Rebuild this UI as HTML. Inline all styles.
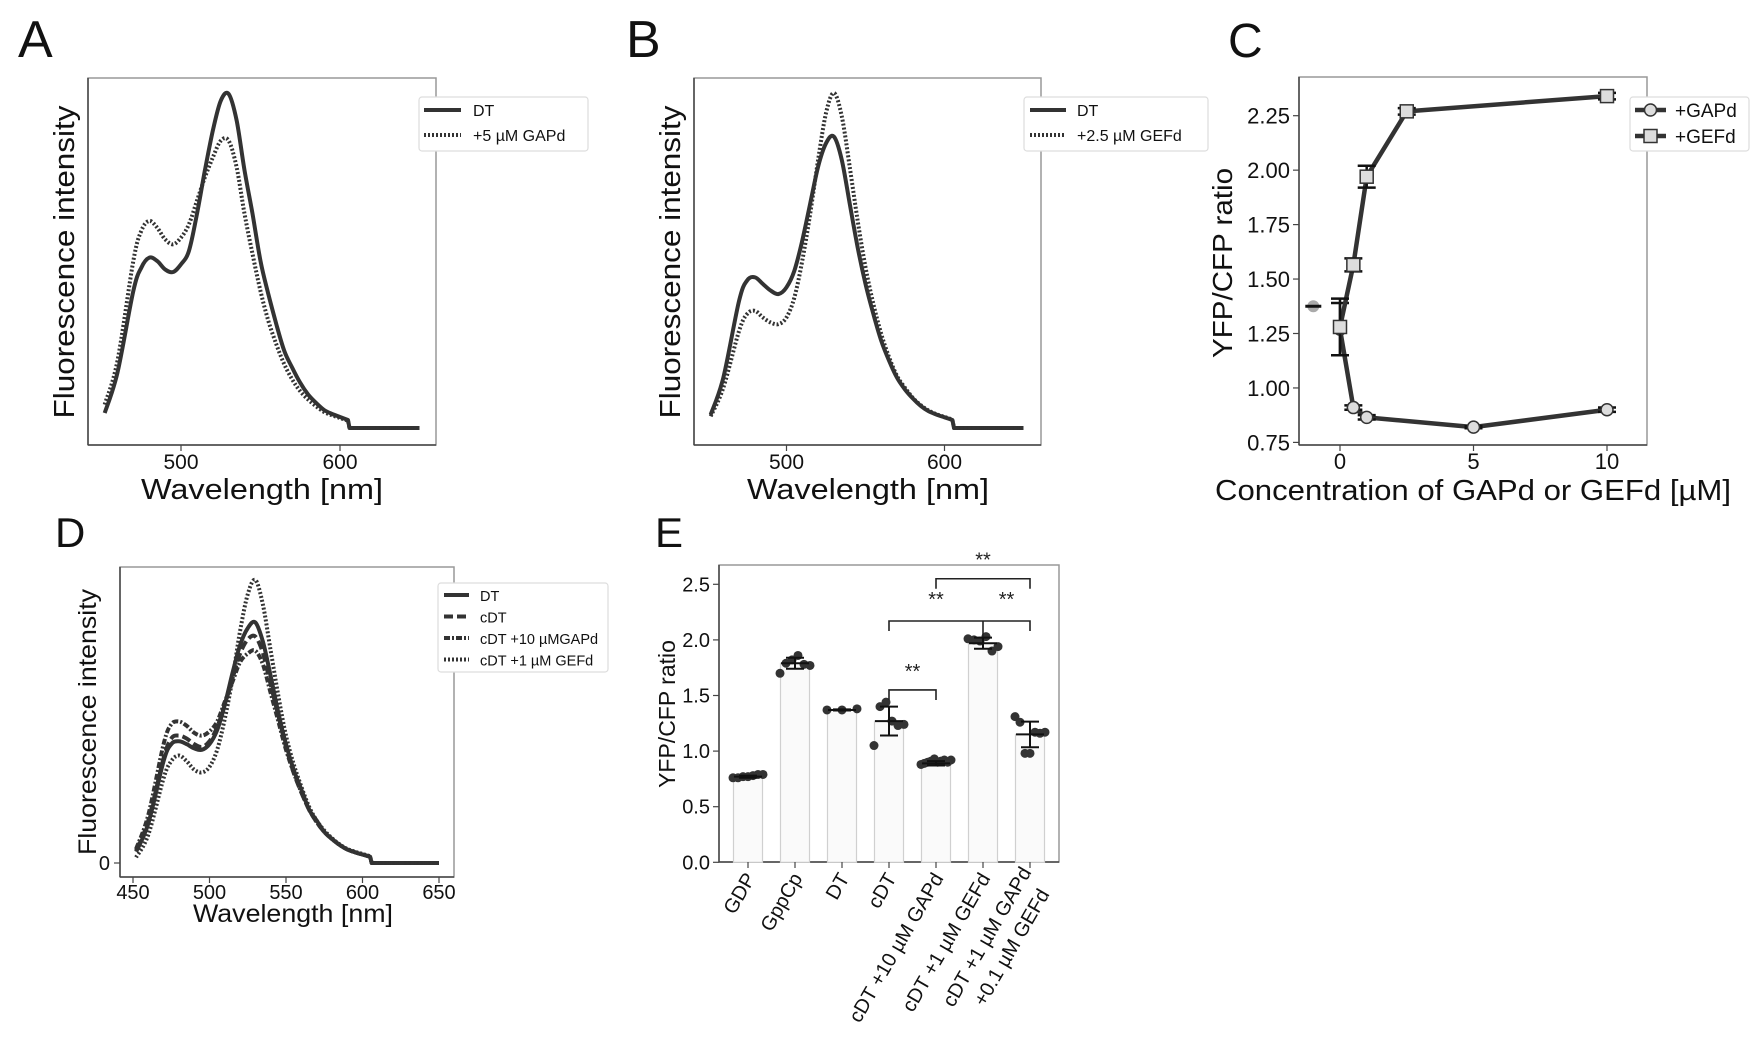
<!DOCTYPE html>
<html><head><meta charset="utf-8"><style>
html,body{margin:0;padding:0;background:#fff;}
svg{display:block;font-family:"Liberation Sans","DejaVu Sans",sans-serif;}
</style></head><body>
<svg id="fig" width="1762" height="1054" viewBox="0 0 1762 1054">
<rect x="0" y="0" width="1762" height="1054" fill="#fff"/>
<g id="layer"></g>
</svg>
<script>
// ---------- DATA ----------
const wavelengths = [452,460,470,475,480,485,490,495,500,505,510,515,520,525,530,535,540,545,550,555,560,565,570,575,580,585,590,595,600,605,606,650];
const aDT   = [.045,.165,.41,.48,.51,.50,.475,.467,.49,.53,.64,.77,.89,.98,1.0,.92,.77,.64,.50,.40,.31,.23,.18,.135,.10,.075,.054,.042,.033,.024,0,0];
const aGAPd = [.07,.20,.50,.59,.62,.60,.565,.55,.57,.61,.68,.75,.81,.86,.86,.78,.64,.52,.41,.32,.25,.19,.145,.11,.085,.065,.048,.038,.03,.022,0,0];
const bDT   = [.04,.15,.38,.44,.45,.43,.41,.40,.42,.47,.56,.67,.78,.85,.87,.80,.67,.54,.43,.34,.26,.20,.15,.115,.088,.066,.05,.04,.032,.024,0,0];
const bGEFd = [.035,.12,.29,.34,.35,.33,.315,.31,.33,.39,.50,.64,.80,.94,1.0,.93,.78,.62,.48,.37,.28,.21,.155,.12,.09,.068,.052,.041,.033,.025,0,0];
const dDT   = [.04,.14,.36,.42,.43,.42,.405,.40,.42,.47,.56,.67,.77,.83,.85,.78,.66,.53,.42,.33,.26,.19,.15,.11,.085,.064,.048,.038,.03,.022,0,0];
const dcDT  = [.045,.15,.37,.44,.45,.44,.42,.41,.43,.48,.56,.65,.74,.79,.80,.74,.63,.52,.41,.32,.25,.19,.145,.11,.085,.064,.048,.038,.03,.022,0,0];
const dGAPd = [.05,.17,.42,.49,.50,.485,.46,.45,.465,.50,.57,.64,.71,.74,.75,.70,.60,.50,.40,.32,.25,.19,.145,.11,.085,.064,.048,.038,.03,.022,0,0];
const dGEFd = [.02,.10,.30,.36,.38,.36,.33,.32,.34,.40,.51,.65,.82,.95,1.0,.91,.75,.59,.45,.35,.27,.20,.15,.115,.088,.066,.05,.04,.032,.024,0,0];
const specTicksAB = [500,600];
const specTicksD = [450,500,550,600,650];

const cGAPdX = [0,0.5,1,5,10];
const cGAPdY = [1.27,0.91,0.865,0.82,0.90];
const cGAPdE = [0.12,0.01,0.01,0.005,0.01];
const cGEFdX = [0,0.5,1,2.5,10];
const cGEFdY = [1.28,1.565,1.97,2.27,2.34];
const cGEFdE = [0.13,0.03,0.05,0.015,0.015];
const cRefX = [-1];
const cRefY = [1.375];
const cYTicks = [0.75,1.00,1.25,1.50,1.75,2.00,2.25];
const cXTicks = [0,5,10];

const eCats = ["GDP","GppCp","DT","cDT","cDT +10 µM GAPd","cDT +1 µM GEFd","cDT +1 µM GAPd|+0.1 µM GEFd"];
const eMeans = [0.77,1.79,1.37,1.27,0.89,1.97,1.15];
const eErr = [0.01,0.05,0.005,0.13,0.02,0.05,0.115];
const ePoints = [
 [0.76,0.76,0.77,0.77,0.78,0.79,0.79],
 [1.70,1.79,1.82,1.86,1.78,1.77],
 [1.37,1.37,1.38],
 [1.05,1.40,1.44,1.27,1.23,1.24],
 [0.88,0.89,0.90,0.91,0.93,0.90,0.91,0.92,0.90,0.92],
 [2.01,2.00,1.99,2.03,1.90,1.94],
 [1.31,1.26,0.98,0.98,1.17,1.16,1.17]
];
const eYTicks = [0.0,0.5,1.0,1.5,2.0,2.5];
const eSigStart = [3,3,4];
const eSigEnd = [4,6,6];
const eSigLevel = [1.55,2.17,2.55];

// ---------- HELPERS ----------
const NS="http://www.w3.org/2000/svg";
const layer=document.getElementById('layer');
function mk(tag,attrs,parent){const e=document.createElementNS(NS,tag);for(const k in attrs)e.setAttribute(k,attrs[k]);(parent||layer).appendChild(e);return e;}
function txt(s,attrs,parent){const e=mk('text',attrs,parent);e.textContent=s;return e;}
function smoothPath(pts){
  let d=`M${pts[0][0].toFixed(1)},${pts[0][1].toFixed(1)}`;
  for(let i=0;i<pts.length-1;i++){
    const p0=pts[Math.max(0,i-1)],p1=pts[i],p2=pts[i+1],p3=pts[Math.min(pts.length-1,i+2)];
    if(p2[0]-p1[0]<3){d+=` L${p2[0].toFixed(1)},${p2[1].toFixed(1)}`;continue;}
    const c1=[p1[0]+(p2[0]-p0[0])/6,p1[1]+(p2[1]-p0[1])/6];
    const c2=[p2[0]-(p3[0]-p1[0])/6,p2[1]-(p3[1]-p1[1])/6];
    if(p3[0]-p2[0]<3){c2[1]=p2[1]-(p2[1]-p1[1])/3;c2[0]=p2[0]-(p2[0]-p1[0])/3;}
    if(p1[0]-p0[0]<3&&i>0){c1[1]=p1[1]+(p2[1]-p1[1])/3;c1[0]=p1[0]+(p2[0]-p1[0])/3;}
    d+=` C${c1[0].toFixed(1)},${c1[1].toFixed(1)} ${c2[0].toFixed(1)},${c2[1].toFixed(1)} ${p2[0].toFixed(1)},${p2[1].toFixed(1)}`;
  }
  return d;
}
function frame(g,x0,y0,x1,y1){
  mk('rect',{x:x0,y:y0,width:x1-x0,height:y1-y0,fill:'none',stroke:'#999','stroke-width':1.5},g);
  mk('line',{x1:x0,y1:y1,x2:x1,y2:y1,stroke:'#444','stroke-width':1.5},g);
  mk('line',{x1:x0,y1:y0,x2:x0,y2:y1,stroke:'#444','stroke-width':1.5},g);
}
function panelLetter(s,x,y,size){const t=txt(s,{x:x,y:y,'font-size':size,fill:'#111'});}

// ---------- SPECTRUM PANELS ----------
function spectrumPanel(cfg){
  const g=mk('g',{});
  
  
  const xs=w=>cfg.x500+(w-500)*cfg.kx;
  const ys=v=>cfg.y0-v*cfg.ky;
  frame(g,cfg.ax0,cfg.ay0,cfg.ax1,cfg.ay1);
  cfg.ticks.forEach(t=>{
    mk('line',{x1:xs(t),y1:cfg.ay1,x2:xs(t),y2:cfg.ay1+6,stroke:'#444','stroke-width':1.2},g);
    const tl=txt(String(t),{x:xs(t),y:cfg.tickY,'font-size':cfg.tickFs,'text-anchor':'middle',fill:'#111'},g);
    
    
  });
  if(cfg.zeroTick){
    mk('line',{x1:cfg.ax0-6,y1:ys(0),x2:cfg.ax0,y2:ys(0),stroke:'#444','stroke-width':1.2},g);
    const z=txt('0',{x:cfg.ax0-10,y:ys(0)+7,'font-size':cfg.tickFs,'text-anchor':'end',fill:'#111'},g);
    
    
  }
  const xl=txt('Wavelength [nm]',{x:cfg.xlX,y:cfg.xlY,'font-size':cfg.xlFs,'text-anchor':'middle',fill:'#111',textLength:cfg.xlLen,lengthAdjust:'spacingAndGlyphs'},g);
  
  
  const yl=txt('Fluorescence intensity',{x:0,y:0,'font-size':cfg.ylFs,'text-anchor':'middle',fill:'#111',transform:`translate(${cfg.ylX},${cfg.ylY}) rotate(-90)`,textLength:cfg.ylLen,lengthAdjust:'spacingAndGlyphs'},g);
  
  
  cfg.series.forEach(s=>{
    const pts=wavelengths.map((w,i)=>[xs(w),ys(s.vals[i])]);
    const p=mk('path',{d:smoothPath(pts),fill:'none',stroke:'#333','stroke-width':4,'stroke-dasharray':s.dash||'none','stroke-linejoin':'round'},g);
    
    
  });
  const L=cfg.legend;
  const lg=mk('g',{},g);
  
  
  mk('rect',{x:L.x0,y:L.y0,width:L.x1-L.x0,height:L.y1-L.y0,rx:3,fill:'#fff',stroke:'#ddd','stroke-width':1.2},lg);
  cfg.series.forEach((s,i)=>{
    const yy=L.y0+L.first+i*L.step;
    mk('line',{x1:L.lx0,y1:yy,x2:L.lx1,y2:yy,stroke:'#333','stroke-width':4,'stroke-dasharray':s.dash||'none'},lg);
    const t=txt(s.label,{x:L.tx,y:yy+6,'font-size':L.fs,fill:'#111'},lg);
    
    
  });
}
panelLetter('A',18,57,52);
spectrumPanel({name:'panel-a-chart',ax0:88,ay0:78,ax1:436,ay1:445,x500:181,kx:1.59,y0:428,ky:334,ticks:specTicksAB,tickY:469,tickFs:21,
  xlX:262,xlY:499,xlFs:29,xlLen:242,ylX:74,ylY:262,ylFs:29,ylLen:313,
  series:[{key:'dt',vals:aDT,label:'DT'},{key:'gapd',vals:aGAPd,dash:'2,2',label:'+5 µM GAPd'}],
  legend:{x0:419,y0:97,x1:588,y1:151,first:13,step:25,lx0:424,lx1:461,tx:473,fs:16}});
panelLetter('B',626,57,52);
spectrumPanel({name:'panel-b-chart',ax0:694,ay0:78,ax1:1041,ay1:445,x500:786.5,kx:1.58,y0:428,ky:335,ticks:specTicksAB,tickY:469,tickFs:21,
  xlX:868,xlY:499,xlFs:29,xlLen:242,ylX:680,ylY:262,ylFs:29,ylLen:313,
  series:[{key:'dt',vals:bDT,label:'DT'},{key:'gefd',vals:bGEFd,dash:'2,2',label:'+2.5 µM GEFd'}],
  legend:{x0:1024,y0:97,x1:1208,y1:151,first:13,step:25,lx0:1030,lx1:1066,tx:1077,fs:16}});
panelLetter('D',55,547,42);
spectrumPanel({name:'panel-d-chart',ax0:120,ay0:567,ax1:454,ay1:877,x500:209.5,kx:1.53,y0:863,ky:283,ticks:specTicksD,tickY:899,tickFs:20,zeroTick:true,
  xlX:293,xlY:922,xlFs:25,xlLen:200,ylX:96,ylY:722,ylFs:25,ylLen:266,
  series:[{key:'dt',vals:dDT,label:'DT'},{key:'cdt',vals:dcDT,dash:'9,4',label:'cDT'},{key:'cdt-gapd',vals:dGAPd,dash:'6,2,2,2',label:'cDT +10 µMGAPd'},{key:'cdt-gefd',vals:dGEFd,dash:'2,2',label:'cDT +1 µM GEFd'}],
  legend:{x0:438,y0:583,x1:608,y1:672,first:12,step:21.5,lx0:444,lx1:469,tx:480,fs:14.5}});

// ---------- PANEL C ----------
(function(){
  panelLetter('C',1228,57,48);
  const g=mk('g',{});
  
  
  const ax0=1299,ax1=1647,ay0=77,ay1=445;
  const xs=v=>1340+v*26.7;
  const ys=v=>115.7-(v-2.25)*217.8;
  frame(g,ax0,ay0,ax1,ay1);
  cYTicks.forEach(t=>{
    mk('line',{x1:ax0-6,y1:ys(t),x2:ax0,y2:ys(t),stroke:'#444','stroke-width':1.2},g);
    const l=txt(t.toFixed(2),{x:ax0-9,y:ys(t)+8,'font-size':22,'text-anchor':'end',fill:'#111'},g);
    
    
  });
  cXTicks.forEach(t=>{
    mk('line',{x1:xs(t),y1:ay1,x2:xs(t),y2:ay1+6,stroke:'#444','stroke-width':1.2},g);
    const l=txt(String(t),{x:xs(t),y:469,'font-size':22,'text-anchor':'middle',fill:'#111'},g);
    
    
  });
  const xl=txt('Concentration of GAPd or GEFd [µM]',{x:1473,y:500,'font-size':29,'text-anchor':'middle',fill:'#111',textLength:516,lengthAdjust:'spacingAndGlyphs'},g);
  
  
  const yl=txt('YFP/CFP ratio',{x:0,y:0,'font-size':28,'text-anchor':'middle',fill:'#111',transform:'translate(1232,263) rotate(-90)',textLength:190,lengthAdjust:'spacingAndGlyphs'},g);
  
  
  function errbars(X,Y,E){X.forEach((x,i)=>{
    const cx=xs(x);
    mk('line',{x1:cx,y1:ys(Y[i]-E[i]),x2:cx,y2:ys(Y[i]+E[i]),stroke:'#111','stroke-width':2.5},g);
    [Y[i]-E[i],Y[i]+E[i]].forEach(v=>mk('line',{x1:cx-9,y1:ys(v),x2:cx+9,y2:ys(v),stroke:'#111','stroke-width':2.5},g));
  });}
  function series(X,Y,E,marker,key){
    const ln=mk('polyline',{points:X.map((x,i)=>xs(x)+','+ys(Y[i])).join(' '),fill:'none',stroke:'#333','stroke-width':4.5,'stroke-linejoin':'round'},g);
    
    
    errbars(X,Y,E);
    X.forEach((x,i)=>{
      let m;
      if(marker==='sq') m=mk('rect',{x:xs(x)-6.5,y:ys(Y[i])-6.5,width:13,height:13,fill:'#ddd',stroke:'#333','stroke-width':1.5},g);
      else m=mk('circle',{cx:xs(x),cy:ys(Y[i]),r:6,fill:'#ddd',stroke:'#333','stroke-width':1.5},g);
      
      
    });
  }
  series(cGAPdX,cGAPdY,cGAPdE,'circ','gapd');
  series(cGEFdX,cGEFdY,cGEFdE,'sq','gefd');
  cRefX.forEach((x,i)=>{
    const m=mk('circle',{cx:xs(x),cy:ys(cRefY[i]),r:6,fill:'#aaa',stroke:'none'},g);
    
    
    mk('line',{x1:xs(x)-8,y1:ys(cRefY[i]),x2:xs(x)+8,y2:ys(cRefY[i]),stroke:'#111','stroke-width':3},g);
  });
  const lg=mk('g',{},g);
  
  
  mk('rect',{x:1630,y:97,width:119,height:54,rx:3,fill:'#fff',stroke:'#ddd','stroke-width':1.2},lg);
  [['+GAPd','circ',110],['+GEFd','sq',136]].forEach(r=>{
    mk('line',{x1:1635,y1:r[2],x2:1666,y2:r[2],stroke:'#333','stroke-width':4.5},lg);
    if(r[1]==='sq') mk('rect',{x:1644,y:r[2]-6.5,width:13,height:13,fill:'#ddd',stroke:'#333','stroke-width':1.5},lg);
    else mk('circle',{cx:1650.5,cy:r[2],r:6,fill:'#ddd',stroke:'#333','stroke-width':1.5},lg);
    const t=txt(r[0],{x:1675,y:r[2]+7,'font-size':19,fill:'#111'},lg);
    
    
  });
})();

// ---------- PANEL E ----------
(function(){
  panelLetter('E',655,547,42);
  const g=mk('g',{});
  
  
  const ax0=719,ax1=1059,ay0=565,ay1=862;
  const xs=i=>748+i*47;
  const ys=v=>862.3-v*111.2;
  frame(g,ax0,ay0,ax1,ay1);
  eYTicks.forEach(t=>{
    mk('line',{x1:ax0-6,y1:ys(t),x2:ax0,y2:ys(t),stroke:'#444','stroke-width':1.2},g);
    const l=txt(t.toFixed(1),{x:ax0-9,y:ys(t)+7,'font-size':20,'text-anchor':'end',fill:'#111'},g);
    
    
  });
  const yl=txt('YFP/CFP ratio',{x:0,y:0,'font-size':23,'text-anchor':'middle',fill:'#111',transform:'translate(675,714) rotate(-90)'},g);
  
  
  eCats.forEach((c,i)=>{
    const cx=xs(i);
    const b=mk('rect',{x:cx-14.5,y:ys(eMeans[i]),width:29,height:ys(0)-ys(eMeans[i]),fill:'#fafafa',stroke:'#d0d0d0','stroke-width':1.2},g);
    
    
    mk('line',{x1:cx,y1:ay1,x2:cx,y2:ay1+6,stroke:'#444','stroke-width':1.2},g);
    const lines=c.split('|');
    lines.forEach((ln,k)=>{
      let ex=cx+8, ey=ay1+16;
      if(lines.length>1){ ex = k===0 ? cx+2 : cx+20; ey = k===0 ? ay1+10 : ay1+32; }
      const t=txt(ln,{x:0,y:0,'font-size':20,'text-anchor':'end',fill:'#111',transform:`translate(${ex},${ey}) rotate(-60)`},g);
      
      
    });
    const pts=ePoints[i];
    pts.forEach((v,k)=>{
      const dx=pts.length>1?(-15+30*k/(pts.length-1)):0;
      const p=mk('circle',{cx:cx+dx,cy:ys(v),r:4.5,fill:'#333'},g);
      
      
    });
    const e=eErr[i];
    mk('line',{x1:cx,y1:ys(eMeans[i]-e),x2:cx,y2:ys(eMeans[i]+e),stroke:'#111','stroke-width':2},g);
    [eMeans[i]-e,eMeans[i]+e].forEach(v=>mk('line',{x1:cx-9,y1:ys(v),x2:cx+9,y2:ys(v),stroke:'#111','stroke-width':2},g));
    mk('line',{x1:cx-14,y1:ys(eMeans[i]),x2:cx+14,y2:ys(eMeans[i]),stroke:'#111','stroke-width':2},g);
  });
  eSigStart.forEach((s,i)=>{
    const a=xs(s),b=xs(eSigEnd[i]),y=ys(eSigLevel[i]),drop=ys(eSigLevel[i]-0.09);
    const br=mk('polyline',{points:`${a},${drop} ${a},${y} ${b},${y} ${b},${drop}`,fill:'none',stroke:'#222','stroke-width':1.6},g);
    
    
    if(eSigEnd[i]-s===3){
      mk('line',{x1:xs(5),y1:y,x2:xs(5),y2:ys(2.03),stroke:'#222','stroke-width':1.6},g);
      [[ (xs(3)+xs(5))/2 ],[ (xs(5)+xs(6))/2 ]].forEach(m=>{
        const t=txt('**',{x:m[0],y:y-15,'font-size':20,'text-anchor':'middle',fill:'#222'},g);
        
        
      });
    } else {
      const t=txt('**',{x:(a+b)/2,y:y-12,'font-size':20,'text-anchor':'middle',fill:'#222'},g);
      
      
    }
  });
})();
</script>
</body></html>
